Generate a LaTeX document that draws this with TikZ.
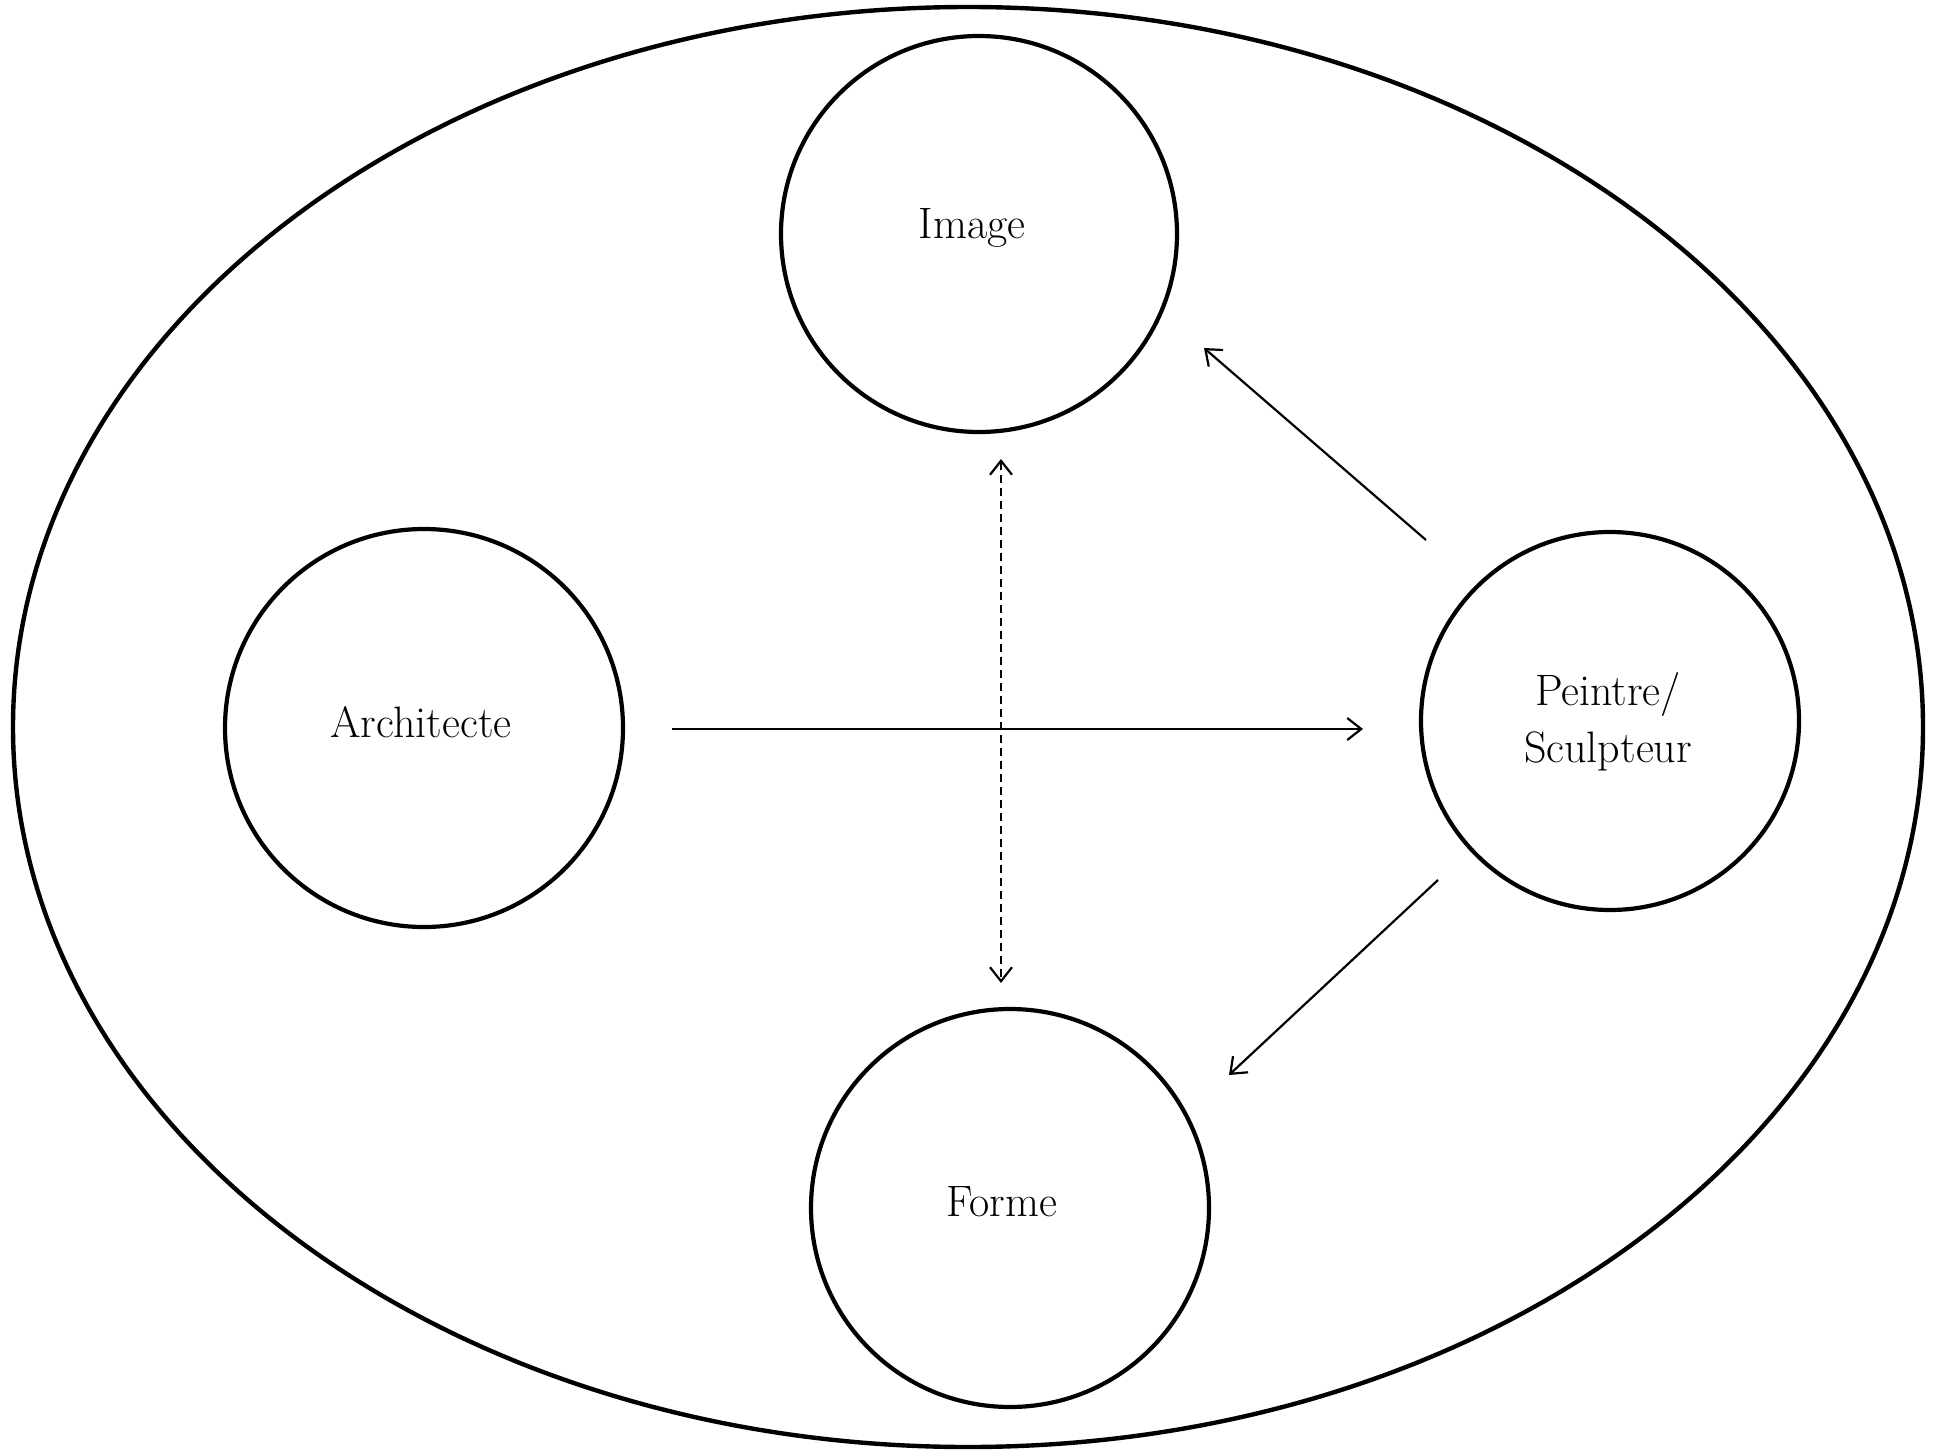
\documentclass[tikz,border=0pt]{standalone}
\usetikzlibrary{arrows.meta}
\begin{document}
\begin{tikzpicture}[x=0.5pt,y=-0.5pt,
  bubble/.style={circle,draw,line width=2.1pt,inner sep=0pt},
  lbl/.style={font=\fontsize{22}{28.5}\selectfont,align=center},
  conn/.style={line width=1.1pt,-{Straight Barb[length=7pt,width=11pt]}},
  dconn/.style={line width=1.1pt,dashed,dash pattern=on 4pt off 2.5pt,{Straight Barb[length=7pt,width=11pt]}-{Straight Barb[length=7pt,width=11pt]}}]
\useasboundingbox (0,0) rectangle (1955,1450);
\draw[line width=2.2pt] (968,727) ellipse [x radius=955, y radius=720];
\node[bubble,minimum size=396pt*0.5] (image) at (979,234) {};
\node[lbl] (imaget) at (972,228) {Image};
\node[bubble,minimum size=398pt*0.5] (archi) at (424,728) {};
\node[lbl] (archit) at (421,722) {Architecte};
\node[bubble,minimum size=378pt*0.5] (peintre) at (1610,721) {};
\node[lbl] (peintret) at (1608,722) {Peintre/\\Sculpteur};
\node[bubble,minimum size=398pt*0.5] (forme) at (1010,1208) {};
\node[lbl] (formet) at (1002,1202) {Forme};
\coordinate (a1) at (672,729);
\coordinate (a2) at (1363,729);
\coordinate (d1) at (1001,459);
\coordinate (d2) at (1001,983);
\coordinate (p1) at (1426,540);
\coordinate (p2) at (1204,348);
\coordinate (q1) at (1438,880);
\coordinate (q2) at (1229,1075);
\draw[conn] (a1) -- (a2);
\draw[dconn] (d1) -- (d2);
\draw[conn] (p1) -- (p2);
\draw[conn] (q1) -- (q2);
\end{tikzpicture}
\end{document}
